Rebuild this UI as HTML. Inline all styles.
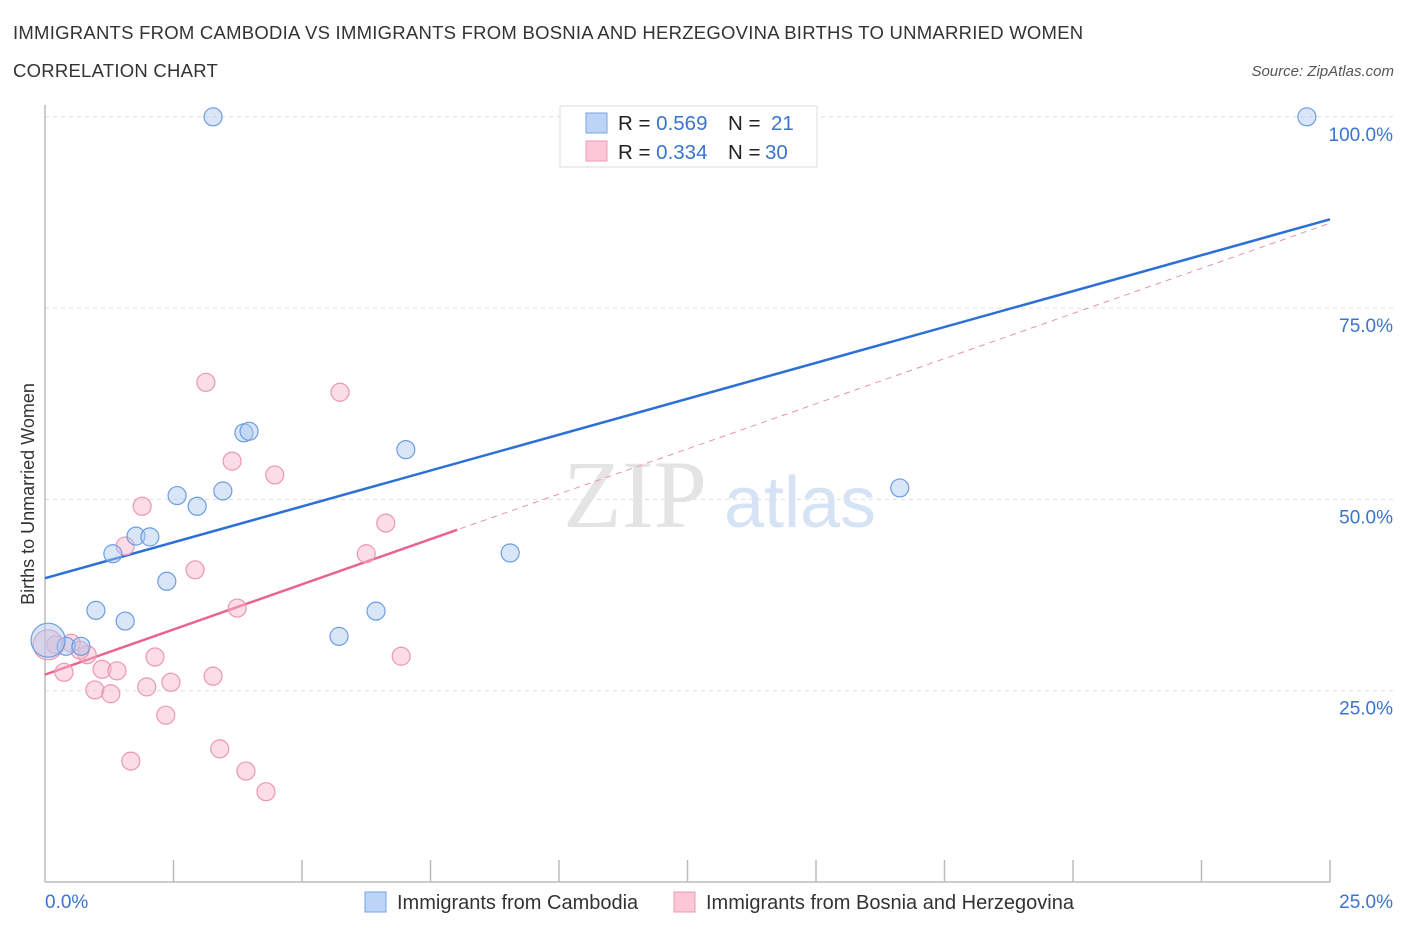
<!DOCTYPE html>
<html><head><meta charset="utf-8"><style>
body{margin:0;background:#fff;font-family:"Liberation Sans",sans-serif;}
svg{display:block}
</style></head><body>
<svg id="c" width="1406" height="930" xmlns="http://www.w3.org/2000/svg">
<text x="13" y="39" font-size="18.5" letter-spacing="0.25" fill="#333">IMMIGRANTS FROM CAMBODIA VS IMMIGRANTS FROM BOSNIA AND HERZEGOVINA BIRTHS TO UNMARRIED WOMEN</text>
<text x="13" y="77" font-size="18.5" letter-spacing="0.25" fill="#333">CORRELATION CHART</text>
<text x="1394" y="76" font-size="15" fill="#555" font-style="italic" text-anchor="end">Source: ZipAtlas.com</text>
<g id="grid"></g>
<text x="635" y="527" font-size="96" font-family="Liberation Serif,serif" fill="#e4e4e4" text-anchor="middle">ZIP</text>
<text x="800" y="527" font-size="72" fill="#d5e3f5" text-anchor="middle">atlas</text>
<line x1="45" y1="105" x2="45" y2="882" stroke="#bbb" stroke-width="1.5"/>
<line x1="45" y1="882" x2="1330" y2="882" stroke="#bbb" stroke-width="1.5"/>
<g id="ticks"></g>
<g id="lines"></g>
<g id="pts"></g>
<text transform="translate(34,494) rotate(-90)" font-size="18" fill="#333" text-anchor="middle">Births to Unmarried Women</text>
<text x="45" y="908" font-size="19" fill="#3a74d0">0.0%</text>
<text x="1393" y="908" font-size="19" fill="#3a74d0" text-anchor="end">25.0%</text>
<g>
<rect x="560" y="106" width="257" height="61" fill="#fff" stroke="#ddd"/>
<rect x="586" y="113" width="21" height="20" fill="#bcd4f5" stroke="#7aa6e6"/>
<rect x="586" y="141" width="21" height="20" fill="#fcc8d8" stroke="#ec9ab4"/>
<text x="618" y="130" font-size="20.5" fill="#222">R = <tspan fill="#3a74d0">0.569</tspan><tspan x="728">N = </tspan><tspan x="771" fill="#3a74d0">21</tspan></text>
<text x="618" y="159" font-size="20.5" fill="#222">R = <tspan fill="#3a74d0">0.334</tspan><tspan x="728">N = </tspan><tspan x="765" fill="#3a74d0">30</tspan></text>
</g>
<g>
<rect x="365" y="892" width="21" height="20" fill="#bcd4f5" stroke="#7aa6e6"/>
<text x="397" y="909" font-size="20" fill="#333">Immigrants from Cambodia</text>
<rect x="674" y="892" width="21" height="20" fill="#fcc8d8" stroke="#ec9ab4"/>
<text x="706" y="909" font-size="20" fill="#333">Immigrants from Bosnia and Herzegovina</text>
</g>
</svg>
<script>
const yTicks=[25,50,75,100];
const yTickLabels=["25.0%","50.0%","75.0%","100.0%"];
const cambX=[3.27,24.55,3.87,3.97,7.02,2.57,2.96,3.46,16.63,1.77,2.04,1.32,9.05,2.37,0.99,1.56,6.44,5.72,0.41,0.70,0.06];
const cambY=[100,100,58.7,58.9,56.5,50.5,49.1,51.1,51.5,45.2,45.1,42.9,43.0,39.3,35.5,34.1,35.4,32.1,30.8,30.8,31.6];
const bosX=[3.13,5.74,3.64,4.47,1.89,6.63,1.56,6.25,2.92,3.74,2.14,6.93,0.21,0.51,0.82,0.37,1.11,1.40,3.27,2.45,0.97,1.28,1.98,2.35,1.67,3.40,3.91,4.30,0.06,0.68];
const bosY=[65.3,64.0,55.0,53.2,49.1,46.9,43.9,42.9,40.8,35.8,29.4,29.5,31.0,31.2,29.7,27.4,27.8,27.6,26.9,26.1,25.1,24.6,25.5,21.8,15.8,17.4,14.5,11.8,31.0,30.3];
const cambTrend=[39.7,86.6];
const bosTrend=[27.1,86.1];
const bosSolidEnd=8.02;
const X=v=>45+v*51.4, Y=v=>882-v*7.652;
const NS="http://www.w3.org/2000/svg";
function mk(t,a,p){const e=document.createElementNS(NS,t);for(const k in a)e.setAttribute(k,a[k]);p.appendChild(e);return e;}
const grid=document.getElementById('grid');
yTicks.forEach((t,i)=>{
 const l=mk('line',{x1:45,x2:1395,y1:Y(t),y2:Y(t),stroke:'#ddd','stroke-dasharray':'4,4'},grid);
 
 
 const tx=mk('text',{x:1393,y:Y(t)+24,'font-size':19,fill:'#3a74d0','text-anchor':'end'},grid);
 tx.textContent=yTickLabels[i];
 
 
});
const tk=document.getElementById('ticks');
for(let i=1;i<=10;i++){
 const l=mk('line',{x1:X(i*2.5),x2:X(i*2.5),y1:860,y2:882,stroke:'#bbb','stroke-width':1.5},tk);
 
 
}
const lg=document.getElementById('lines');
let l1=mk('line',{x1:X(0),y1:Y(bosTrend[0]),x2:X(25),y2:Y(bosTrend[1]),stroke:'#e891ad','stroke-width':1,'stroke-dasharray':'6,5'},lg);


const bs=(bosTrend[1]-bosTrend[0])/25;
let l2=mk('line',{x1:X(0),y1:Y(bosTrend[0]),x2:X(bosSolidEnd),y2:Y(bosTrend[0]+bs*bosSolidEnd),stroke:'#e8648f','stroke-width':2.5},lg);


let l3=mk('line',{x1:X(0),y1:Y(cambTrend[0]),x2:X(25),y2:Y(cambTrend[1]),stroke:'#2b70d6','stroke-width':2.5},lg);


const pg=document.getElementById('pts');
bosX.forEach((x,i)=>{
 const c=mk('circle',{cx:X(x),cy:Y(bosY[i]),r:i==28?15:9,fill:'rgba(248,180,202,0.45)',stroke:'#eb97b2','stroke-width':1.2},pg);
 
 
});
cambX.forEach((x,i)=>{
 const c=mk('circle',{cx:X(x),cy:Y(cambY[i]),r:i==20?17:9,fill:'rgba(170,200,240,0.45)',stroke:'#6d9de0','stroke-width':1.2},pg);
 
 
});
</script>
</body></html>
